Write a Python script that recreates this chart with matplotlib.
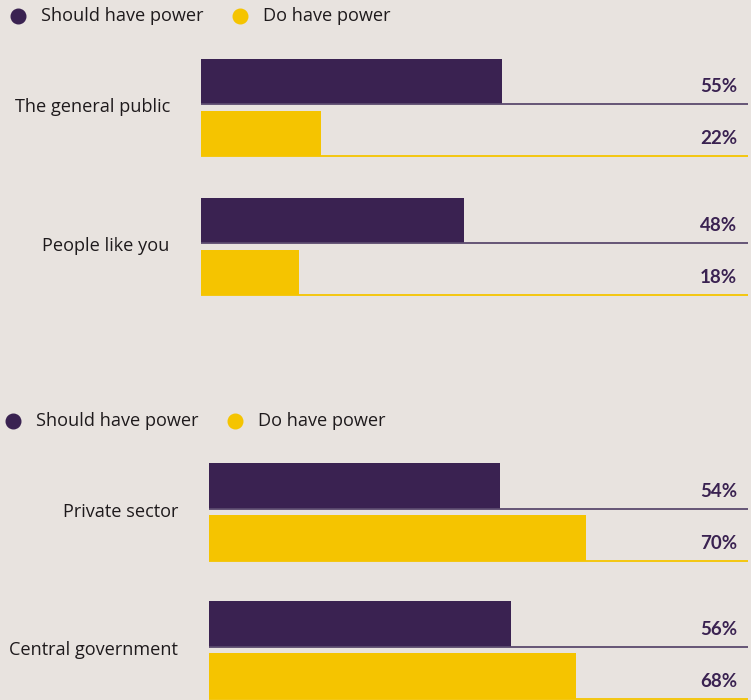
import matplotlib
matplotlib.use("Agg")
import matplotlib.pyplot as plt
from matplotlib.lines import Line2D

# ---- data ----
series = ["Should have power", "Do have power"]
panel1_categories = ["The general public", "People like you"]
panel1_should = [55, 48]
panel1_do = [22, 18]
panel2_categories = ["Private sector", "Central government"]
panel2_should = [54, 56]
panel2_do = [70, 68]

# ---- style ----
BG = "#E8E3DF"
PURPLE = "#3A2251"
PURPLE_LINE = "#5B4A6E"
YELLOW = "#F5C400"
TEXT = "#1E1A1C"
FONT = "Open Sans"
VFONT = "Lato"

W, H = 751, 700
fig = plt.figure(figsize=(W / 100, H / 100), dpi=100, facecolor=BG)
plt.rcParams["font.family"] = [FONT, "DejaVu Sans"]


def legend(y_px, x_dot1, x_dot2):
    for xd, col, lab in [(x_dot1, PURPLE, series[0]), (x_dot2, YELLOW, series[1])]:
        fig.add_artist(Line2D([xd / W], [1 - y_px / H], marker="o", markersize=10.5,
                              color=col, linestyle="none", transform=fig.transFigure))
        fig.text((xd + 23) / W, 1 - y_px / H, lab, fontsize=13.1, color=TEXT,
                 va="center", ha="left")


def panel(left_px, right_px, top_px, bottom_px, row_px, cats, should, do):
    ax = fig.add_axes([left_px / W, 1 - bottom_px / H, (right_px - left_px) / W,
                       (bottom_px - top_px) / H])
    ax.set_facecolor("none")
    ax.set_xlim(0, 100)
    span = (bottom_px - top_px) / row_px
    ax.set_ylim(span, 0)
    ax.axis("off")
    h = 45.5 / row_px
    off = [0.225, 0.602]
    label_gap = 9 / row_px
    for i, cat in enumerate(cats):
        for j, (vals, col, lcol) in enumerate([(should, PURPLE, PURPLE_LINE), (do, YELLOW, YELLOW)]):
            yc = i + off[j]
            ax.barh(yc, vals[i], height=h, color=col, linewidth=0)
            ybot = yc + h / 2
            ax.plot([0, 100], [ybot, ybot], color=lcol, linewidth=1.3,
                    solid_capstyle="butt", clip_on=False)
            ax.text(98, ybot - label_gap, f"{vals[i]}%", ha="right", va="bottom",
                    fontsize=13.5, fontweight="bold", color=PURPLE,
                    family=[VFONT, "DejaVu Sans"])
        ax.text(-5.7, i + (off[0] + off[1]) / 2, cat, ha="right", va="center",
                fontsize=13.1, color=TEXT, clip_on=False)
    return ax


legend(16, 18, 240)
panel(201, 748, 50, 328, 139, panel1_categories, panel1_should, panel1_do)

legend(421, 13, 235)
panel(209, 748, 455, 700, 138, panel2_categories, panel2_should, panel2_do)

fig.savefig("out.png", dpi=100, facecolor=BG)
